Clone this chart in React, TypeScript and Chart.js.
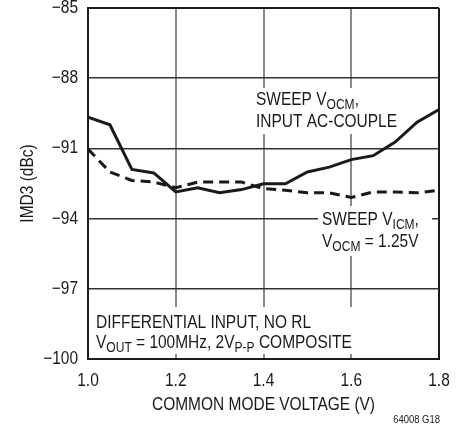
import React, { useEffect, useRef } from "react";
import { Chart, registerables } from "chart.js";

Chart.register(...registerables);

const xValues = [1.0, 1.05, 1.1, 1.15, 1.2, 1.25, 1.3, 1.35, 1.4, 1.45, 1.5, 1.55, 1.6, 1.65, 1.7, 1.75, 1.8];
const sweepVocm = [-89.66, -89.99, -91.9, -92.05, -92.86, -92.68, -92.89, -92.76, -92.51, -92.51, -92.01, -91.8, -91.48, -91.31, -90.73, -89.88, -89.34];
const sweepVicm = [-91.03, -92.01, -92.37, -92.44, -92.68, -92.44, -92.44, -92.44, -92.72, -92.79, -92.9, -92.9, -93.1, -92.86, -92.86, -92.9, -92.79];
const xTickValues = [1.0, 1.2, 1.4, 1.6, 1.8];
const yTickValues = [-100, -97, -94, -91, -88, -85];
const xTitle = "COMMON MODE VOLTAGE (V)";
const yTitle = "IMD3 (dBc)";
const figId = "64008 G18";

const FONT = '"Liberation Sans", Arial, sans-serif';
const SX = 0.86;
const INK = "#1a1a1a";

type Seg = { t: string; sub?: boolean };

function narrowText(ctx: CanvasRenderingContext2D, t: string, x: number, y: number, size: number, align: "left" | "center" | "right", baseline: CanvasTextBaseline) {
  ctx.font = `${size}px ${FONT}`;
  const w = ctx.measureText(t).width * SX;
  let x0 = x;
  if (align === "center") x0 = x - w / 2;
  else if (align === "right") x0 = x - w;
  ctx.save();
  ctx.textAlign = "left";
  ctx.textBaseline = baseline;
  ctx.translate(x0, y);
  ctx.scale(SX, 1);
  ctx.fillText(t, 0, 0);
  ctx.restore();
  return w;
}

function drawSegs(ctx: CanvasRenderingContext2D, segs: Seg[], x: number, y: number, size: number) {
  let cx = x;
  for (const s of segs) {
    const fs = s.sub ? Math.round(size * 0.78) : size;
    cx += narrowText(ctx, s.t, cx, s.sub ? y + 4 : y, fs, "left", "alphabetic");
  }
}

const annotPlugin = {
  id: "annot",
  beforeDatasetsDraw(chart: any) {
    const ctx = chart.ctx as CanvasRenderingContext2D;
    ctx.save();
    ctx.fillStyle = "#ffffff";
    ctx.fillRect(252, 88, 150, 46);
    ctx.fillRect(318, 206, 114, 50);
    ctx.fillRect(90, 307, 282, 47);
    ctx.fillStyle = INK;
    const fs = 18;
    drawSegs(ctx, [{ t: "SWEEP V" }, { t: "OCM", sub: true }, { t: "," }], 256, 105, fs);
    drawSegs(ctx, [{ t: "INPUT AC-COUPLE" }], 256, 127, fs);
    drawSegs(ctx, [{ t: "SWEEP V" }, { t: "ICM", sub: true }, { t: "," }], 322, 225, fs);
    drawSegs(ctx, [{ t: "V" }, { t: "OCM", sub: true }, { t: " = 1.25V" }], 322, 247, fs);
    drawSegs(ctx, [{ t: "DIFFERENTIAL INPUT, NO RL" }], 96, 328, fs);
    drawSegs(ctx, [{ t: "V" }, { t: "OUT", sub: true }, { t: " = 100MHz, 2V" }, { t: "P-P", sub: true }, { t: " COMPOSITE" }], 96, 348, fs);
    ctx.restore();
  },
  afterDraw(chart: any) {
    const ctx = chart.ctx as CanvasRenderingContext2D;
    const ca = chart.chartArea;
    const xs = chart.scales.x;
    const ys = chart.scales.y;
    ctx.save();
    ctx.fillStyle = INK;
    for (const v of xTickValues) {
      narrowText(ctx, v.toFixed(1), xs.getPixelForValue(v), 381, 18, "center", "middle");
    }
    for (const v of yTickValues) {
      narrowText(ctx, String(v).replace("-", "\u2212"), 78, ys.getPixelForValue(v), 18, "right", "middle");
    }
    narrowText(ctx, xTitle, (ca.left + ca.right) / 2, 405, 18, "center", "middle");
    ctx.save();
    ctx.translate(28, (ca.top + ca.bottom) / 2);
    ctx.rotate(-Math.PI / 2);
    narrowText(ctx, yTitle, 0, 0, 18, "center", "middle");
    ctx.restore();
    narrowText(ctx, figId, 440, 420, 11, "right", "middle");
    ctx.restore();
  },
};

export default function App() {
  const ref = useRef<HTMLCanvasElement>(null);
  useEffect(() => {
    if (!ref.current) return;
    const chart = new Chart(ref.current, {
      type: "line",
      data: {
        datasets: [
          {
            data: xValues.map((x, i) => ({ x, y: sweepVocm[i] })),
            borderColor: INK,
            borderWidth: 3,
            pointRadius: 0,
            tension: 0,
            fill: false,
          },
          {
            data: xValues.map((x, i) => ({ x, y: sweepVicm[i] })),
            borderColor: INK,
            borderWidth: 3,
            borderDash: [10, 6],
            pointRadius: 0,
            tension: 0,
            fill: false,
          },
        ],
      },
      options: {
        animation: false,
        responsive: false,
        maintainAspectRatio: false,
        layout: { padding: { left: 0, right: 29, top: 8, bottom: 0 } },
        plugins: { legend: { display: false }, tooltip: { enabled: false } },
        scales: {
          x: {
            type: "linear",
            min: 1.0,
            max: 1.8,
            afterBuildTicks: (s: any) => {
              s.ticks = xTickValues.map((v) => ({ value: v }));
            },
            afterFit: (s: any) => {
              s.height = 66;
            },
            ticks: { display: false },
            grid: {
              drawTicks: false,
              color: (c: any) => (c.tick && (c.tick.value === 1.0 || c.tick.value === 1.8) ? INK : "#8a8a8a"),
              lineWidth: 2,
            },
            border: { color: INK, width: 2 },
          },
          y: {
            type: "linear",
            min: -100,
            max: -85,
            afterBuildTicks: (s: any) => {
              s.ticks = yTickValues.map((v) => ({ value: v }));
            },
            afterFit: (s: any) => {
              s.width = 88;
            },
            ticks: { display: false },
            grid: {
              drawTicks: false,
              color: (c: any) => (c.tick && c.tick.value === -85 ? INK : "#333333"),
              lineWidth: (c: any) => (c.tick && c.tick.value === -85 ? 2 : 1.5),
            },
            border: { color: INK, width: 2 },
          },
        },
      },
      plugins: [annotPlugin],
    } as any);
    return () => chart.destroy();
  }, []);
  return (
    <div style={{ position: "absolute", left: 0, top: 0, width: 468, height: 425, background: "#fff" }}>
      <canvas ref={ref} width={468} height={425} style={{ display: "block", width: 468, height: 425 }} />
    </div>
  );
}
